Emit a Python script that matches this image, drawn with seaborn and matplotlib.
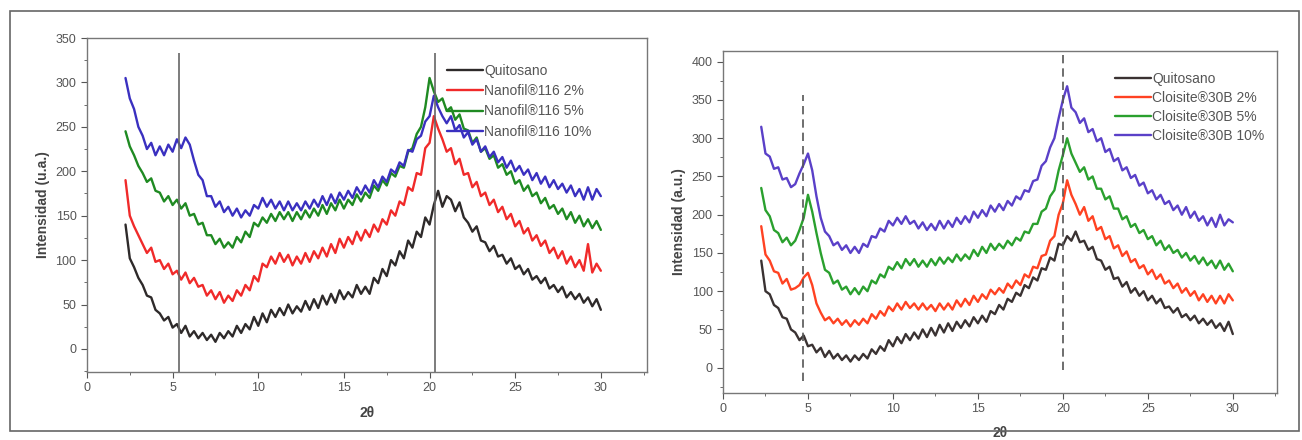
import numpy as np
import pandas as pd
import matplotlib.pyplot as plt
import matplotlib.patches as mpatches
from matplotlib.ticker import MultipleLocator
import seaborn as sns

# 2theta positions (0.25 deg steps)
two_theta = np.arange(2.25, 30.01, 0.25)

# --- left panel: Nanofil 116 ---
quitosano_n = [140, 102, 92, 80, 72, 60, 58, 44, 40, 32, 36, 24, 28, 18, 26, 14,
               20, 12, 18, 10, 16, 8, 18, 12, 20, 14, 26, 18, 28, 22, 36, 26,
               40, 30, 44, 36, 46, 38, 50, 40, 48, 42, 54, 44, 56, 46, 60, 50,
               62, 52, 66, 56, 64, 58, 72, 62, 70, 62, 80, 74, 90, 82, 100, 94,
               110, 102, 122, 114, 132, 126, 148, 140, 162, 178, 160, 172, 168, 155, 165, 148,
               142, 132, 138, 122, 120, 110, 116, 104, 106, 96, 102, 90, 94, 84, 90, 78,
               82, 74, 80, 68, 72, 64, 70, 58, 64, 56, 62, 52, 58, 48, 56, 44]
nanofil_2 = [190, 150, 138, 128, 118, 108, 114, 98, 100, 90, 96, 84, 88, 78, 86, 74,
             80, 70, 72, 60, 66, 56, 64, 52, 60, 54, 66, 60, 72, 66, 82, 76,
             96, 92, 104, 96, 108, 98, 106, 94, 104, 96, 108, 98, 110, 102, 114, 104,
             118, 108, 124, 114, 126, 118, 132, 122, 134, 126, 140, 132, 146, 140, 156, 150,
             166, 162, 182, 178, 198, 196, 226, 232, 262, 248, 236, 222, 226, 208, 214, 196,
             198, 182, 188, 172, 176, 162, 168, 154, 160, 146, 152, 138, 144, 130, 136, 122,
             128, 116, 122, 108, 114, 102, 110, 96, 104, 92, 100, 88, 118, 86, 96, 88]
nanofil_5 = [245, 228, 218, 206, 198, 188, 192, 178, 176, 166, 172, 162, 168, 158, 164, 150,
             152, 140, 142, 128, 128, 118, 124, 114, 120, 114, 126, 120, 132, 126, 142, 138,
             148, 142, 152, 144, 154, 146, 154, 144, 154, 146, 156, 148, 158, 150, 162, 152,
             164, 156, 168, 158, 168, 162, 174, 166, 176, 170, 184, 178, 190, 184, 198, 194,
             206, 204, 222, 226, 242, 250, 272, 305, 290, 278, 282, 268, 272, 258, 264, 248,
             246, 232, 238, 222, 226, 214, 218, 204, 208, 196, 200, 186, 190, 178, 184, 172,
             176, 164, 170, 158, 162, 152, 158, 146, 154, 142, 150, 138, 146, 136, 144, 134]
nanofil_10 = [305, 282, 270, 250, 240, 225, 232, 218, 228, 218, 230, 222, 236, 226, 238, 230,
              212, 196, 190, 172, 172, 160, 166, 154, 160, 150, 158, 148, 156, 150, 162, 158,
              170, 160, 168, 158, 166, 156, 166, 156, 164, 156, 166, 158, 168, 160, 172, 162,
              174, 164, 176, 168, 178, 170, 182, 174, 184, 176, 190, 182, 194, 188, 202, 198,
              210, 206, 224, 222, 236, 240, 256, 262, 285, 272, 262, 254, 262, 246, 252, 238,
              244, 230, 236, 222, 228, 216, 222, 210, 216, 204, 212, 200, 206, 196, 202, 190,
              198, 186, 194, 182, 190, 180, 186, 176, 184, 172, 180, 168, 182, 168, 180, 172]

# --- right panel: Cloisite 30B ---
quitosano_c = [140, 100, 96, 82, 78, 66, 64, 50, 46, 36, 42, 28, 30, 20, 26, 14,
               22, 12, 18, 10, 16, 8, 16, 10, 18, 12, 24, 18, 28, 22, 36, 28,
               40, 32, 44, 36, 46, 38, 50, 40, 52, 42, 56, 46, 58, 48, 60, 52,
               62, 54, 66, 58, 68, 60, 74, 70, 82, 76, 90, 86, 98, 94, 108, 104,
               118, 114, 130, 128, 144, 140, 162, 160, 172, 166, 178, 164, 166, 154, 158, 142,
               140, 128, 132, 116, 118, 106, 112, 98, 104, 94, 100, 88, 94, 84, 90, 78,
               80, 72, 78, 66, 70, 62, 68, 58, 64, 56, 62, 52, 58, 48, 60, 44]
cloisite_2 = [185, 148, 140, 126, 124, 110, 116, 102, 104, 108, 118, 124, 108, 84, 72, 62,
              66, 58, 64, 56, 62, 54, 62, 56, 64, 58, 70, 64, 74, 68, 80, 74,
              84, 76, 86, 78, 84, 76, 84, 76, 82, 74, 84, 76, 84, 76, 88, 80,
              90, 82, 94, 86, 96, 90, 102, 96, 104, 98, 110, 104, 114, 108, 122, 118,
              132, 130, 146, 148, 166, 172, 200, 215, 245, 226, 214, 200, 210, 192, 198, 180,
              184, 168, 172, 156, 160, 146, 152, 138, 142, 130, 134, 122, 128, 116, 122, 110,
              114, 104, 110, 98, 104, 94, 100, 88, 96, 86, 94, 84, 94, 84, 96, 88]
cloisite_5 = [235, 206, 198, 180, 176, 164, 170, 160, 166, 180, 196, 226, 204, 176, 150, 128,
              124, 110, 114, 102, 106, 96, 104, 96, 106, 100, 114, 110, 122, 118, 132, 128,
              138, 130, 142, 134, 142, 132, 140, 132, 142, 134, 144, 136, 144, 138, 148, 140,
              148, 142, 154, 146, 158, 150, 162, 154, 162, 156, 166, 160, 170, 166, 178, 176,
              188, 188, 204, 208, 224, 232, 258, 278, 300, 280, 268, 256, 262, 246, 250, 234,
              234, 220, 224, 208, 208, 194, 198, 184, 188, 176, 180, 168, 172, 160, 166, 154,
              160, 150, 154, 144, 150, 140, 146, 136, 144, 134, 140, 130, 140, 128, 136, 126]
cloisite_10 = [315, 280, 276, 260, 262, 246, 248, 236, 240, 254, 266, 280, 258, 224, 196, 178,
               172, 160, 164, 154, 160, 150, 158, 150, 162, 158, 172, 170, 182, 178, 192, 186,
               196, 188, 198, 188, 192, 182, 190, 180, 188, 180, 192, 182, 192, 184, 196, 188,
               198, 190, 204, 196, 206, 198, 212, 204, 214, 206, 218, 212, 224, 220, 232, 230,
               244, 246, 264, 270, 288, 300, 326, 350, 368, 340, 334, 320, 326, 308, 312, 296,
               300, 282, 286, 270, 274, 258, 262, 248, 252, 238, 242, 228, 232, 220, 226, 214,
               218, 206, 212, 200, 210, 196, 204, 192, 198, 186, 196, 184, 200, 186, 194, 190]

labels_n = ["Quitosano", "Nanofil®116 2%", "Nanofil®116 5%", "Nanofil®116 10%"]
labels_c = ["Quitosano", "Cloisite®30B 2%", "Cloisite®30B 5%", "Cloisite®30B 10%"]
colors_n = ["#2e2a2a", "#f02a2a", "#1f8a22", "#3a30c0"]
colors_c = ["#3a3232", "#ff4222", "#2aa02e", "#5a40c8"]


def long_form(series, labels):
    frames = []
    for vals, lab in zip(series, labels):
        frames.append(pd.DataFrame({"x": two_theta, "y": vals, "muestra": lab}))
    return pd.concat(frames, ignore_index=True)


df_n = long_form([quitosano_n, nanofil_2, nanofil_5, nanofil_10], labels_n)
df_c = long_form([quitosano_c, cloisite_2, cloisite_5, cloisite_10], labels_c)

sns.set_style("ticks")
plt.rcParams["font.family"] = ["Liberation Sans", "DejaVu Sans"]

fig = plt.figure(figsize=(13.02, 4.4), dpi=100)
ax1 = fig.add_axes([0.0668, 0.1545, 0.4302, 0.7591])
ax2 = fig.add_axes([0.5553, 0.107, 0.4255, 0.777])

grey = "#555555"

for ax, df, labels, colors in [(ax1, df_n, labels_n, colors_n), (ax2, df_c, labels_c, colors_c)]:
    sns.lineplot(data=df, x="x", y="y", hue="muestra", hue_order=labels,
                 palette=colors, linewidth=1.7, ax=ax, sort=False)
    ax.xaxis.set_major_locator(MultipleLocator(5))
    ax.xaxis.set_minor_locator(MultipleLocator(2.5))
    ax.yaxis.set_major_locator(MultipleLocator(50))
    ax.yaxis.set_minor_locator(MultipleLocator(25))
    ax.tick_params(which="both", direction="out", colors=grey, labelsize=9)
    ax.tick_params(which="major", length=4)
    ax.tick_params(which="minor", length=2.5)
    for sp in ax.spines.values():
        sp.set_color("#777777")
        sp.set_linewidth(1.0)
    ax.set_xlabel("2θ", fontsize=10, fontweight="bold", color="#444444", labelpad=8)

ax1.set_xlim(0, 32.7)
ax1.set_ylim(-26, 350)
ax1.set_ylabel("Intensidad (u.a.)", fontsize=10, fontweight="bold", color="#444444")
ax1.vlines([5.4, 20.3], -26, 333, color="#666666", linewidth=1.2)
leg1 = ax1.legend(loc="upper left", bbox_to_anchor=(0.62, 0.96), frameon=False,
                  fontsize=10, handlelength=2.6, labelspacing=0.45, handletextpad=0.1)

ax2.set_xlim(0, 32.6)
ax2.set_ylim(-33, 414)
ax2.set_ylabel("Intensidad (a.u.)", fontsize=10, fontweight="bold", color="#444444")
ax2.vlines(4.7, -18, 357, color="#555555", linewidth=1.2, linestyles=(0, (5, 3)))
ax2.vlines(20.0, -3, 412, color="#555555", linewidth=1.2, linestyles=(0, (5, 3)))
leg2 = ax2.legend(loc="upper left", bbox_to_anchor=(0.685, 0.975), frameon=False,
                  fontsize=10, handlelength=2.6, labelspacing=0.35, handletextpad=0.1)

for leg in (leg1, leg2):
    for t in leg.get_texts():
        t.set_color(grey)

# scanned page border
fig.patches.append(mpatches.Rectangle((0.008, 0.02), 0.99, 0.955, transform=fig.transFigure,
                                      fill=False, edgecolor="#666666", linewidth=1.2))

fig.savefig("out.png", dpi=100)
